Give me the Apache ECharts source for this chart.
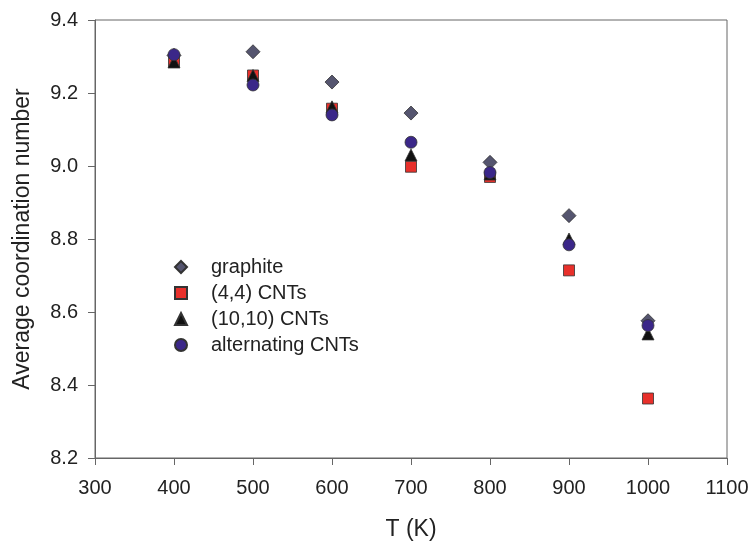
<!DOCTYPE html>
<html><head><meta charset="utf-8">
<script src="https://cdn.jsdelivr.net/npm/echarts@6/dist/echarts.min.js"></script>
<style>html,body{margin:0;padding:0;background:#fff}#c{width:755px;height:546px}</style>
</head><body><div id="c"></div>
<script>
const temps = [400, 500, 600, 700, 800, 900, 1000];
const graphite = [9.303, 9.313, 9.230, 9.145, 9.010, 8.864, 8.576];
const cnt44 = [9.285, 9.248, 9.157, 8.998, 8.970, 8.714, 8.363];
const cnt1010 = [9.285, 9.248, 9.162, 9.030, 8.978, 8.800, 8.540];
const alternating = [9.305, 9.222, 9.140, 9.065, 8.982, 8.784, 8.563];
const names = ['graphite', '(4,4) CNTs', '(10,10) CNTs', 'alternating CNTs'];

const pair = v => temps.map((t, i) => [t, v[i]]);
const font = '"Liberation Sans", Arial, sans-serif';
const chart = echarts.init(document.getElementById('c'));
const mk = (name, data, symbol, size, color) => ({
  name, type: 'scatter', data: pair(data), symbol, symbolSize: size,
  itemStyle: { color, borderColor: '#333', borderWidth: 0.8, opacity: 1 }
});
chart.setOption({
  animation: false,
  backgroundColor: '#fff',
  grid: { left: 95, right: 28, top: 20, bottom: 86, show: true, borderColor: '#666', borderWidth: 1 },
  legend: {
    orient: 'vertical', left: 169, top: 252, itemWidth: 12, itemHeight: 12, itemGap: 6,
    data: names,
    textStyle: { fontFamily: font, fontSize: 20, color: '#222', padding: [0, 0, 0, 19] }
  },
  xAxis: {
    type: 'value', min: 300, max: 1100, interval: 100,
    name: 'T (K)', nameLocation: 'middle', nameGap: 60,
    nameTextStyle: { fontFamily: font, fontSize: 23, color: '#222' },
    axisLine: { lineStyle: { color: '#666' } },
    axisTick: { show: true, length: 7, lineStyle: { color: '#666' } },
    axisLabel: { fontFamily: font, fontSize: 20, color: '#222', margin: 20, formatter: v => String(v) },
    splitLine: { show: false }
  },
  yAxis: {
    type: 'value', min: 8.2, max: 9.4, interval: 0.2,
    name: 'Average coordination number', nameLocation: 'middle', nameGap: 61,
    nameTextStyle: { fontFamily: font, fontSize: 23, color: '#222' },
    axisLine: { show: true, lineStyle: { color: '#666' } },
    axisTick: { show: true, length: 7, lineStyle: { color: '#666' } },
    axisLabel: { fontFamily: font, fontSize: 20, color: '#222', margin: 17, formatter: v => v.toFixed(1) },
    splitLine: { show: false }
  },
  series: [
    mk(names[0], graphite, 'diamond', 14, '#55556f'),
    mk(names[1], cnt44, 'rect', 11, '#e8302b'),
    mk(names[2], cnt1010, 'triangle', 12, '#111111'),
    mk(names[3], alternating, 'circle', 12, '#3b2789')
  ]
});
</script></body></html>
